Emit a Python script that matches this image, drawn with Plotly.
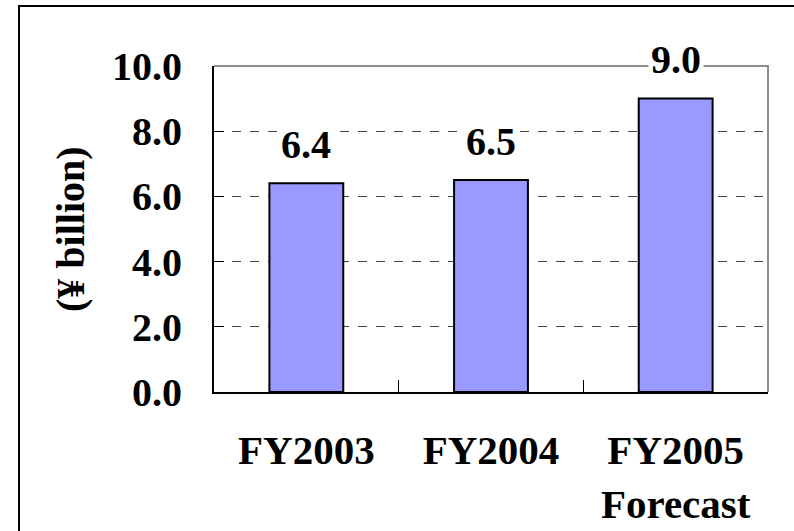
import plotly.graph_objects as go

# values
categories = ["FY2003", "FY2004", "FY2005<br>Forecast"]
sales = [6.4, 6.5, 9.0]
value_labels = ["6.4", "6.5", "9.0"]
y_ticks = [0, 2, 4, 6, 8, 10]
y_tick_text = ["0.0", "2.0", "4.0", "6.0", "8.0", "10.0"]

W, H = 794, 531
L, R, T, B = 214, 26, 66, 139
serif = "Liberation Serif, Times New Roman, serif"

fig = go.Figure()
fig.add_trace(go.Bar(
    x=categories,
    y=sales,
    width=0.4,
    marker=dict(color="#9999FF", line=dict(color="black", width=2)),
    hoverinfo="skip",
))

# value labels with white backing (they break the gridlines)
for cat, val, txt in zip(categories, sales, value_labels):
    fig.add_annotation(
        x=cat, y=val, text=txt, showarrow=False,
        yanchor="middle", yshift=39,
        bgcolor="white", borderpad=2,
        font=dict(family=serif, size=40, color="black", weight="bold"),
    )

pw = W - L - R
ph = H - T - B

# y axis title
fig.add_annotation(
    xref="paper", yref="paper", x=(70 - L) / pw, y=0.5,
    text="(¥ billion)", textangle=-90, showarrow=False,
    xanchor="center", yanchor="middle",
    font=dict(family=serif, size=40, color="black", weight="bold"),
)

# outer frame of the slide
fig.add_shape(
    type="rect", xref="paper", yref="paper",
    x0=(19 - L) / pw, x1=(800 - L) / pw,
    y0=(H - B - 545) / ph, y1=(H - B - 6) / ph,
    line=dict(color="black", width=2), layer="below",
)
# gray top / right plot border
fig.add_shape(
    type="path", xref="paper", yref="paper",
    path="M 0 1 L 1 1 L 1 0",
    line=dict(color="#8c8c8c", width=2), layer="below",
)

fig.update_xaxes(
    type="category", automargin=False,
    showline=True, linecolor="black", linewidth=2,
    ticks="inside", tickson="boundaries", ticklen=12, tickcolor="black", tickwidth=1,
    showgrid=False,
    tickfont=dict(family=serif, size=41, color="black", weight="bold"),
    ticklabelstandoff=21,
)
fig.update_yaxes(
    range=[0, 10], automargin=False,
    tickvals=y_ticks, ticktext=y_tick_text,
    showline=True, linecolor="black", linewidth=2,
    ticks="inside", ticklen=10, tickcolor="black", tickwidth=1,
    showgrid=True, gridcolor="#444444", gridwidth=1, griddash="dash",
    zeroline=False,
    tickfont=dict(family=serif, size=40, color="black", weight="bold"),
    ticklabelstandoff=22,
)
fig.update_layout(
    width=W, height=H,
    margin=dict(l=L, r=R, t=T, b=B, autoexpand=False),
    plot_bgcolor="white", paper_bgcolor="white",
    showlegend=False,
    bargap=0.6,
)

# drop the page's default 8px body margin so the figure sits at the window corner
fig.write_html(
    "out.html",
    config={"displayModeBar": False},
    post_script="document.body.style.margin='0';",
)
